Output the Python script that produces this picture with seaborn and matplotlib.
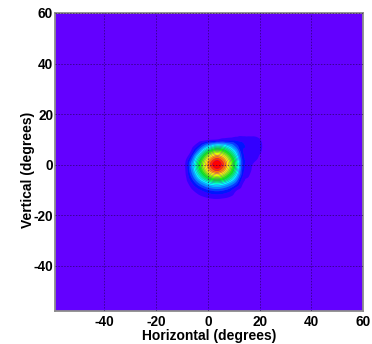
import colorsys
import numpy as np
import matplotlib
matplotlib.use("Agg")
import matplotlib.pyplot as plt
import matplotlib.tri as mtri
import seaborn as sns

# ---------------- data ----------------
x_deg = [-11.5, -9, -6.5, -4, -1.5, 1, 3.5, 6, 8.5, 11, 13.5, 16, 18.5, 21, 23.5]
y_deg = [-15, -12.5, -10, -7.5, -5, -2.5, 0, 2.5, 5, 7.5, 10, 12.5, 15]

row_m15  = [0, 0.1, 0.4, 0.9, 1.4, 1.8, 2, 1.8, 1.4, 0.9, 0.3, 0.1, 0.1, 0, 0]
row_m125 = [0, 0.3, 1.8, 3.7, 5.6, 7.3, 8, 7.3, 5.6, 3.5, 1.1, 0.6, 0.2, 0, 0]
row_m10  = [0.1, 0.7, 4.0, 8.3, 12.6, 16.4, 18, 16.4, 12.6, 6.0, 2.5, 1.3, 0.5, 0, 0]
row_m75  = [0.2, 1.5, 8.4, 17.5, 26.6, 34.6, 38, 34.6, 26.6, 16.7, 5.3, 2.7, 1.1, 0, 0]
row_m5   = [0.3, 2.6, 14.5, 30.4, 46.2, 60.1, 66, 60.1, 46.2, 29.0, 9.2, 4.6, 2.0, 0, 0]
row_m25  = [0.5, 3.6, 19.8, 41.4, 63, 81.9, 90, 81.9, 63, 39.6, 12.6, 6.3, 2.7, 0, 0]
row_0    = [0.5, 4, 22, 46, 70, 91, 100, 91, 70, 44, 14, 7, 3.5, 0.5, 0]
row_25   = [0.4, 2.0, 15, 38, 61, 81, 90, 81.9, 63, 39.6, 13, 8, 6, 3, 0]
row_5    = [0.2, 0.8, 6, 22, 42, 58, 66, 60.1, 46.2, 29.0, 10.5, 8, 7, 4.5, 0]
row_75   = [0, 0.2, 2, 9, 20, 30, 37, 34.6, 26.6, 16.7, 11, 9, 8, 5, 0]
row_10   = [0, 0, 0.3, 1.0, 2.0, 3.6, 4.5, 7, 7.5, 8, 8, 7.5, 7, 4, 0]
row_125  = [0, 0, 0, 0, 0, 0, 0.5, 2, 2, 2, 2, 2, 2, 1, 0]
row_15   = [0, 0, 0, 0, 0, 0, 0, 0, 0, 0, 0, 0, 0, 0, 0]

rows = [row_m15, row_m125, row_m10, row_m75, row_m5, row_m25, row_0,
        row_25, row_5, row_75, row_10, row_125, row_15]

x_ticks = [-40, -20, 0, 20, 40, 60]
y_ticks = [-40, -20, 0, 20, 40, 60]
x_label = "Horizontal (degrees)"
y_label = "Vertical (degrees)"

# ---------------- style ----------------
sns.set_style("white")
plt.rcParams["font.family"] = ["Liberation Sans", "DejaVu Sans"]
plt.rcParams["font.weight"] = "bold"
plt.rcParams["text.color"] = "black"
plt.rcParams["xtick.color"] = "black"
plt.rcParams["ytick.color"] = "black"

# ROOT "pretty" palette (50 colours) sampled for 20 contour bands
n_levels = 20
band_colors = []
for i in range(n_levels):
    idx = int((i + 0.99) * 50 / n_levels)
    hue = 280 - (idx + 1) * (280 / 50)
    band_colors.append(colorsys.hls_to_rgb(hue / 360.0, 0.5, 1.0))
levels = np.linspace(0, 100, n_levels + 1)

fig = plt.figure(figsize=(3.72, 3.44), dpi=100)
ax = fig.add_axes([54.5 / 372, 1 - 311 / 344, (363 - 54.5) / 372, (311 - 13) / 344])
ax.set_facecolor(band_colors[0])

X, Y = np.meshgrid(np.array(x_deg, float), np.array(y_deg, float))
Z = np.array(rows, float)
tri = mtri.Triangulation(X.ravel(), Y.ravel())
refiner = mtri.UniformTriRefiner(tri)
interp = mtri.CubicTriInterpolator(tri, Z.ravel(), kind="geom")
tri_f, z_f = refiner.refine_field(Z.ravel(), triinterpolator=interp, subdiv=4)
z_f = np.clip(z_f, 0, 100)
ax.tricontourf(tri_f, z_f, levels=levels, colors=band_colors, antialiased=True)

ax.set_xlim(-59.3, 60)
ax.set_ylim(-58.0, 59.6)
ax.set_xticks(x_ticks)
ax.set_yticks(y_ticks)
ax.set_xticks(np.arange(-55, 60, 5), minor=True)
ax.set_yticks(np.arange(-55, 60, 5), minor=True)
ax.set_xticklabels([str(v) for v in x_ticks], fontsize=9.8, fontweight="bold", color="black")
ax.set_yticklabels([str(v) for v in y_ticks], fontsize=9.8, fontweight="bold", color="black")
ax.tick_params(axis="both", which="major", direction="in", length=6.5, width=0.8,
               color="#202020", top=False, right=False)
ax.tick_params(axis="both", which="minor", direction="in", length=3.5, width=0.8,
               color="#202020", top=False, right=False)
ax.tick_params(axis="x", which="major", pad=3)
ax.tick_params(axis="y", which="major", pad=1)

ax.grid(True, which="major", color="#1a0040", alpha=0.55, linestyle=(0, (1.5, 1.5)),
        linewidth=0.7)
ax.set_axisbelow(False)

for s in ax.spines.values():
    s.set_visible(True)
    s.set_color("#8c8c8c")
    s.set_linewidth(1.3)

fig.text(209.5 / 372, 1 - 335.7 / 344, x_label, ha="center", va="center",
         fontsize=10, fontweight="bold", color="black")
fig.text(28.3 / 372, 1 - 170 / 344, y_label, ha="center", va="center",
         rotation=90, fontsize=10, fontweight="bold", color="black")

fig.savefig("out.png", dpi=100)
